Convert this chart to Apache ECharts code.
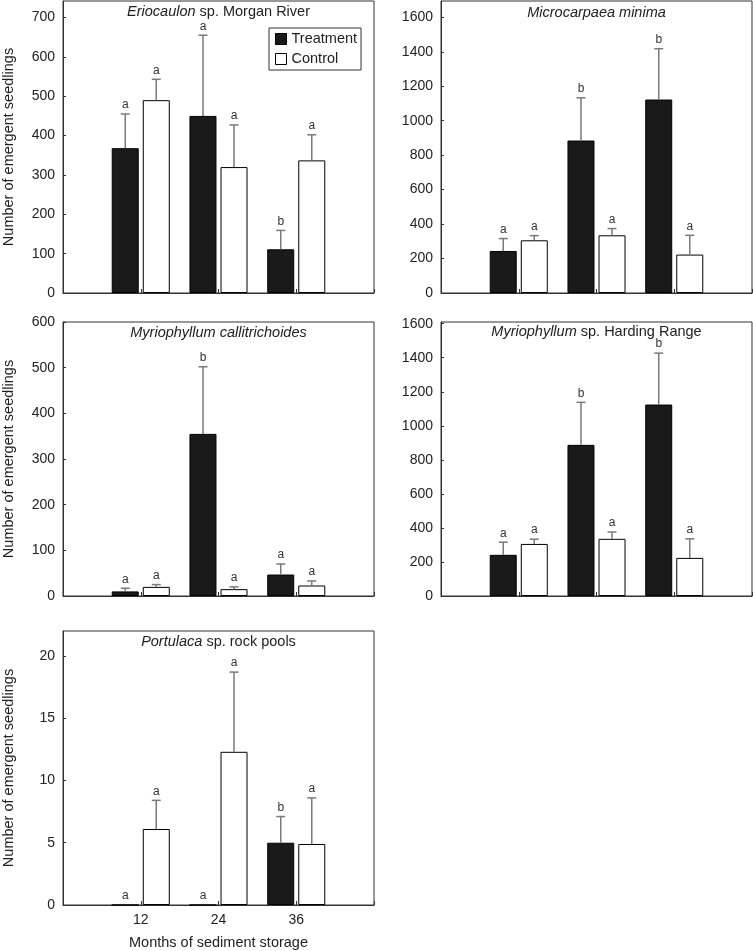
<!DOCTYPE html>
<html><head><meta charset="utf-8">
<script src="https://cdn.jsdelivr.net/npm/echarts@6/dist/echarts.min.js"></script>
<style>html,body{margin:0;padding:0;background:#fff}#c{width:753px;height:951px}</style>
</head><body><div id="c"></div>
<script>
// ---------- data ----------
const months = [12, 24, 36];
const seriesNames = ['Treatment', 'Control'];

const titles = [
  '{i|Eriocaulon} sp. Morgan River',
  '{i|Microcarpaea minima}',
  '{i|Myriophyllum callitrichoides}',
  '{i|Myriophyllum} sp. Harding Range',
  '{i|Portulaca} sp. rock pools'
];

// Eriocaulon sp. Morgan River
const erioTreat = [368, 450, 111];
const erioTreatSE = [87, 205, 48];
const erioCtrl = [490, 320, 337];
const erioCtrlSE = [53, 107, 65];
const erioTreatLetters = ['a', 'a', 'b'];
const erioCtrlLetters = ['a', 'a', 'a'];

// Microcarpaea minima
const microTreat = [244, 885, 1123];
const microTreatSE = [72, 248, 295];
const microCtrl = [306, 335, 223];
const microCtrlSE = [27, 39, 112];
const microTreatLetters = ['a', 'b', 'b'];
const microCtrlLetters = ['a', 'a', 'a'];

// Myriophyllum callitrichoides
const mycaTreat = [10, 355, 47];
const mycaTreatSE = [7, 147, 23];
const mycaCtrl = [20, 15, 23];
const mycaCtrlSE = [5, 5, 10];
const mycaTreatLetters = ['a', 'b', 'a'];
const mycaCtrlLetters = ['a', 'a', 'a'];

// Myriophyllum sp. Harding Range
const myhrTreat = [242, 888, 1125];
const myhrTreatSE = [74, 250, 302];
const myhrCtrl = [306, 336, 224];
const myhrCtrlSE = [28, 40, 112];
const myhrTreatLetters = ['a', 'b', 'b'];
const myhrCtrlLetters = ['a', 'a', 'a'];

// Portulaca sp. rock pools
const portTreat = [0, 0, 5.0];
const portTreatSE = [0, 0, 2.1];
const portCtrl = [6.1, 12.3, 4.9];
const portCtrlSE = [2.3, 6.4, 3.7];
const portTreatLetters = ['a', 'a', 'b'];
const portCtrlLetters = ['a', 'a', 'a'];

// y axis ranges
const yMax = [742, 1695, 600, 1610, 22];
const yInterval = [100, 200, 100, 200, 5];

// ---------- layout ----------
const FONT = "'Liberation Sans', Arial, Helvetica, sans-serif";
const TXT = '#222';
const grids = [
  {left: 63, top: 1, width: 311, height: 292},
  {left: 441, top: 1, width: 311, height: 292},
  {left: 63, top: 322, width: 311, height: 274},
  {left: 441, top: 322, width: 311, height: 274},
  {left: 63, top: 631, width: 311, height: 274}
];
const titleTops = [4, 5, 325, 324, 634];

const panels = [
  [erioTreat, erioTreatSE, erioTreatLetters, erioCtrl, erioCtrlSE, erioCtrlLetters],
  [microTreat, microTreatSE, microTreatLetters, microCtrl, microCtrlSE, microCtrlLetters],
  [mycaTreat, mycaTreatSE, mycaTreatLetters, mycaCtrl, mycaCtrlSE, mycaCtrlLetters],
  [myhrTreat, myhrTreatSE, myhrTreatLetters, myhrCtrl, myhrCtrlSE, myhrCtrlLetters],
  [portTreat, portTreatSE, portTreatLetters, portCtrl, portCtrlSE, portCtrlLetters]
];

const BAR_W = 27;
const OFFSET = 15.5;

function errSeries(mean, se, letters, offset, idx) {
  return {
    type: 'custom', xAxisIndex: idx, yAxisIndex: idx, z: 5, silent: true, clip: false,
    data: months.map((m, i) => [m, mean[i], se[i]]),
    encode: {x: 0, y: 1},
    renderItem: function (params, api) {
      const i = params.dataIndex;
      const x = api.value(0), m = api.value(1), s = api.value(2);
      const base = api.coord([x, m]);
      const top = api.coord([x, m + s]);
      const cx = base[0] + offset;
      const children = [];
      if (s > 0) {
        children.push({type: 'line', shape: {x1: cx, y1: base[1], x2: cx, y2: top[1]},
          style: {stroke: '#7a7a7a', lineWidth: 1.5}});
        children.push({type: 'line', shape: {x1: cx - 4.5, y1: top[1], x2: cx + 4.5, y2: top[1]},
          style: {stroke: '#7a7a7a', lineWidth: 1.5}});
      }
      children.push({type: 'text', style: {text: letters[i], x: cx, y: top[1] - 3,
        align: 'center', verticalAlign: 'bottom', fill: '#333', fontSize: 12, fontFamily: FONT}});
      return {type: 'group', children: children};
    }
  };
}

const option = {
  animation: false,
  backgroundColor: '#fff',
  textStyle: {fontFamily: FONT},
  title: titles.map((t, i) => ({
    text: t,
    left: grids[i].left + grids[i].width / 2,
    top: titleTops[i],
    textAlign: 'center',
    padding: 0,
    textStyle: {fontSize: 14.5, fontWeight: 'normal', color: TXT, fontFamily: FONT,
      rich: {i: {fontStyle: 'italic', fontSize: 14.5, color: TXT, fontFamily: FONT}}}
  })),
  legend: {
    orient: 'vertical', left: 269, top: 28,
    padding: [3, 4, 3, 6], itemGap: 4,
    itemWidth: 11, itemHeight: 11,
    borderColor: '#333', borderWidth: 1, borderRadius: 0,
    textStyle: {fontSize: 14.5, color: TXT, fontFamily: FONT, lineHeight: 16},
    data: [
      {name: 'Treatment', icon: 'rect', itemStyle: {color: '#1a1a1a', borderColor: '#000', borderWidth: 1}},
      {name: 'Control', icon: 'rect', itemStyle: {color: '#fff', borderColor: '#000', borderWidth: 1}}
    ],
    selectedMode: false
  },
  grid: grids.map(g => Object.assign({show: true, borderColor: '#333', borderWidth: 1,
    backgroundColor: 'transparent', containLabel: false}, g)),
  xAxis: grids.map((g, i) => ({
    type: 'value', gridIndex: i, min: 0, max: 48, interval: 12,
    axisLine: {show: true, lineStyle: {color: '#333', width: 1}},
    axisTick: {show: true, inside: true, length: 4, lineStyle: {color: '#333'}},
    splitLine: {show: false},
    axisLabel: {show: i === 4, margin: 8, fontSize: 14, color: TXT, fontFamily: FONT,
      formatter: v => (months.indexOf(v) >= 0 ? String(v) : '')},
    name: i === 4 ? 'Months of sediment storage' : '',
    nameLocation: 'middle', nameGap: 30,
    nameTextStyle: {fontSize: 14.5, color: TXT, fontFamily: FONT}
  })),
  yAxis: grids.map((g, i) => ({
    type: 'value', gridIndex: i, min: 0, max: yMax[i], interval: yInterval[i],
    axisLine: {show: true, lineStyle: {color: '#333', width: 1}},
    axisTick: {show: true, inside: true, length: 3, lineStyle: {color: '#333'}},
    splitLine: {show: false},
    axisLabel: {margin: 8, fontSize: 14, color: TXT, fontFamily: FONT,
      showMaxLabel: yMax[i] % yInterval[i] === 0,
      formatter: v => String(v)},
    name: (i % 2 === 0) ? 'Number of emergent seedlings' : '',
    nameLocation: 'middle', nameGap: 47, nameRotate: 90,
    nameTextStyle: {fontSize: 14.5, color: TXT, fontFamily: FONT}
  })),
  series: []
};

panels.forEach((p, i) => {
  option.series.push({
    name: seriesNames[0], type: 'bar', xAxisIndex: i, yAxisIndex: i,
    barWidth: BAR_W, barGap: '15%',
    itemStyle: {color: '#1a1a1a', borderColor: '#000', borderWidth: 1},
    data: months.map((m, k) => [m, p[0][k]])
  });
  option.series.push({
    name: seriesNames[1], type: 'bar', xAxisIndex: i, yAxisIndex: i,
    barWidth: BAR_W, barGap: '15%',
    itemStyle: {color: '#fff', borderColor: '#000', borderWidth: 1},
    data: months.map((m, k) => [m, p[3][k]])
  });
  option.series.push(errSeries(p[0], p[1], p[2], -OFFSET, i));
  option.series.push(errSeries(p[3], p[4], p[5], OFFSET, i));
});

const chart = echarts.init(document.getElementById('c'), null, {renderer: 'canvas'});
chart.setOption(option);
</script>
</body></html>
